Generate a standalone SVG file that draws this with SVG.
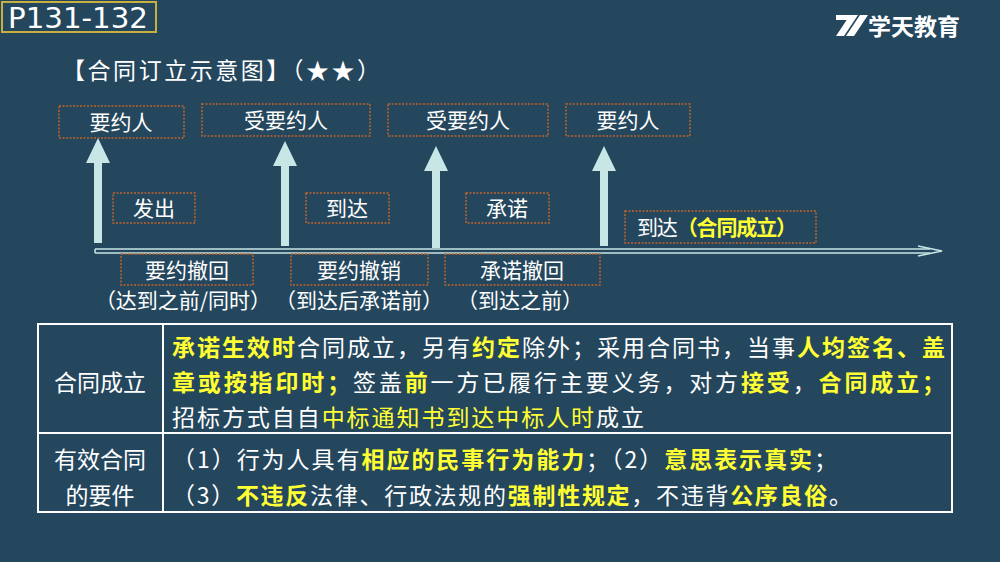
<svg xmlns="http://www.w3.org/2000/svg" width="1000" height="562" viewBox="0 0 1000 562">
<style>
text{font-family:"Noto Sans CJK SC","Liberation Sans",sans-serif;fill:#fff;}
.b{fill:none;stroke:#C0622A;stroke-width:1.5;stroke-dasharray:2 1.5;}
.t{font-size:21px;text-anchor:middle;}
.y{fill:#FFFF33;font-weight:bold;}
.c{font-size:23px;}
.ar{fill:#C8E6E6;}
</style>
<rect width="1000" height="562" fill="#24475E"/>
<g id="badge"><rect x="2" y="2" width="154" height="30" fill="#24475E" stroke="#C8B040" stroke-width="2"/><text x="8" y="28" textLength="140" lengthAdjust="spacingAndGlyphs" style="font-family:'DejaVu Sans Condensed','Liberation Sans',sans-serif;font-size:28px">P131-132</text></g>
<g id="logo"><path d="M836 36 L850 15 L858 15 L844 36Z M846 36 L860 15 L868 15 L854 36Z M836 15 L852 15 L848 20 L836 20Z" fill="#fff"/><text x="868" y="35" style="font-size:23px;font-weight:bold">学天教育</text></g>
<text x="62" y="79" textLength="318" style="font-size:23px">【合同订立示意图】（★★）</text>
<g id="connectors">
<path class="ar" d="M94 243 V163 H86 L98 138 L110 163 H102 V243Z"/>
<path class="ar" d="M281 246 V166 H273 L285 141 L297 166 H289 V246Z"/>
<path class="ar" d="M432 248 V171 H424 L436 146 L448 171 H440 V248Z"/>
<path class="ar" d="M600 246 V171 H592 L604 146 L616 171 H608 V246Z"/>
<path d="M95 249 H930 M95 253 H930" stroke="#C8E6E6" stroke-width="1.5" fill="none"/>
<path d="M95 249 V253" stroke="#C8E6E6" stroke-width="1.5"/>
<path d="M918 246 L942 251 L918 256" stroke="#C8E6E6" stroke-width="1.5" fill="none"/>
</g>
<g id="n1"><rect class="b" x="59" y="106" width="125" height="32"/><text class="t" x="121" y="130">要约人</text></g>
<g id="n2"><rect class="b" x="202" y="104" width="168" height="32"/><text class="t" x="286" y="128">受要约人</text></g>
<g id="n3"><rect class="b" x="388" y="104" width="160" height="32"/><text class="t" x="468" y="128">受要约人</text></g>
<g id="n4"><rect class="b" x="566" y="104" width="124" height="32"/><text class="t" x="628" y="128">要约人</text></g>
<g id="n5"><rect class="b" x="113" y="193" width="82" height="30"/><text class="t" x="154" y="216">发出</text></g>
<g id="n6"><rect class="b" x="306" y="193" width="83" height="30"/><text class="t" x="347" y="216">到达</text></g>
<g id="n7"><rect class="b" x="466" y="193" width="83" height="30"/><text class="t" x="507" y="216">承诺</text></g>
<g id="n8"><rect class="b" x="625" y="211" width="191" height="32"/><text x="637" y="235" textLength="160" style="font-size:21px">到达<tspan class="y">（合同成立）</tspan></text></g>
<g id="n9"><rect class="b" x="121" y="254" width="132" height="31"/><text class="t" x="187" y="278">要约撤回</text><text class="t" x="183" y="308">（达到之前/同时）</text></g>
<g id="n10"><rect class="b" x="291" y="254" width="137" height="31"/><text class="t" x="359" y="278">要约撤销</text><text class="t" x="359" y="308">（到达后承诺前）</text></g>
<g id="n11"><rect class="b" x="445" y="254" width="155" height="31"/><text class="t" x="522" y="278">承诺撤回</text><text class="t" x="520" y="308">（到达之前）</text></g>
<g id="table">
<rect x="38" y="324" width="914" height="188" fill="none" stroke="#fff" stroke-width="2"/>
<path d="M38 433 H952 M163 324 V512" stroke="#fff" stroke-width="2"/>
<text class="c" x="100" y="391" text-anchor="middle">合同成立</text>
<text class="c" x="100" y="468" text-anchor="middle">有效合同</text>
<text class="c" x="100" y="504" text-anchor="middle">的要件</text>
<text class="c" x="172" y="356" textLength="773"><tspan class="y">承诺生效时</tspan>合同成立，另有<tspan class="y">约定</tspan>除外；采用合同书，当事<tspan class="y">人均签名、盖</tspan></text>
<text class="c" x="172" y="391" textLength="773"><tspan class="y">章或按指印时；</tspan>签盖<tspan class="y">前</tspan>一方已履行主要义务，对方<tspan class="y">接受</tspan>，<tspan class="y">合同成立；</tspan></text>
<text class="c" x="172" y="426" textLength="472">招标方式自自<tspan fill="#FFFF33">中标通知书到达中标人时</tspan>成立</text>
<text class="c" x="172" y="468" textLength="665">（1）行为人具有<tspan class="y">相应的民事行为能力</tspan>；（2）<tspan class="y">意思表示真实</tspan>；</text>
<text class="c" x="172" y="504" textLength="680">（3）<tspan class="y">不违反</tspan>法律、行政法规的<tspan class="y">强制性规定</tspan>，不违背<tspan class="y">公序良俗</tspan>。</text>
</g>
</svg>
